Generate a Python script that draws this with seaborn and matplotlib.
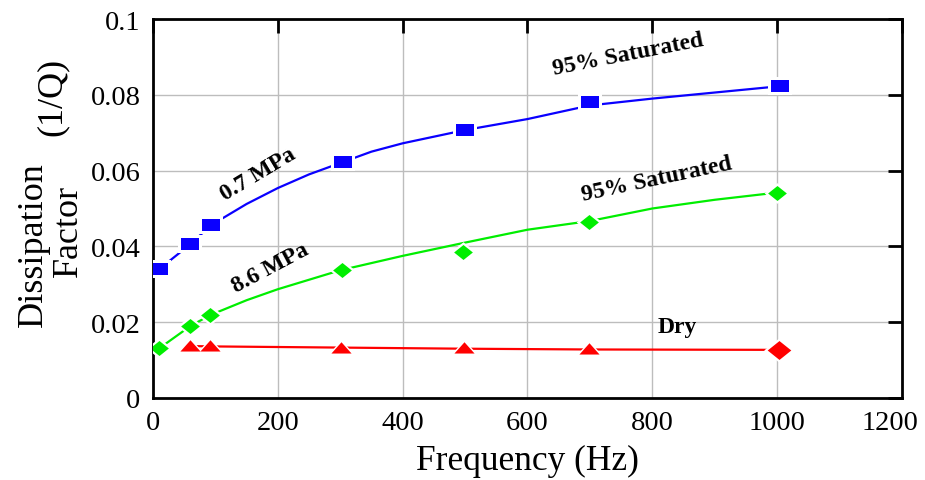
import numpy as np
import pandas as pd
import matplotlib
matplotlib.use("Agg")
import matplotlib.pyplot as plt
from matplotlib.path import Path
from matplotlib.transforms import ScaledTranslation
import seaborn as sns

# Measured dissipation factor (1/Q) versus frequency
freq_sat07 = [10, 60, 93, 305, 500, 700, 1005]
q_sat07 = [0.034, 0.0406, 0.0456, 0.0624, 0.0706, 0.0780, 0.0822]

freq_sat86 = [10, 60, 92, 303, 497, 698, 1000]
q_sat86 = [0.0131, 0.0190, 0.0219, 0.0339, 0.0386, 0.0465, 0.0542]

freq_dry = [60, 92, 302, 498, 698]
q_dry = [0.0137, 0.0137, 0.0132, 0.0132, 0.0128]
freq_dry_end = [1003]
q_dry_end = [0.0127]

# Fitted trend curves
fit_freq_07 = [10, 60, 93, 150, 200, 250, 300, 350, 400, 500, 600, 700, 800, 900, 1000]
fit_q_07 = [0.034, 0.0406, 0.0456, 0.0512, 0.0554, 0.0590, 0.0620, 0.0650, 0.0672,
            0.0707, 0.0736, 0.0772, 0.0790, 0.0806, 0.0822]

fit_freq_86 = [10, 60, 92, 150, 200, 300, 400, 500, 600, 700, 800, 900, 1000]
fit_q_86 = [0.0131, 0.0190, 0.0219, 0.0258, 0.0287, 0.0337, 0.0375, 0.0410, 0.0444,
            0.0467, 0.0500, 0.0523, 0.0542]

fit_freq_dry = [60, 100, 300, 500, 700, 1000]
fit_q_dry = [0.0137, 0.0136, 0.0133, 0.0130, 0.0128, 0.0127]

x_ticks = [0, 200, 400, 600, 800, 1000, 1200]
y_ticks = [0, 0.02, 0.04, 0.06, 0.08, 0.1]
y_tick_labels = ["0", "0.02", "0.04", "0.06", "0.08", "0.1"]

sns.set_theme(style="white")
plt.rcParams["font.family"] = ["Liberation Serif", "DejaVu Serif"]
plt.rcParams["text.color"] = "black"
plt.rcParams["axes.labelcolor"] = "black"

fig = plt.figure(figsize=(9.25, 4.81), dpi=100)
ax = fig.add_axes([0.1654, 0.1705, 0.8097, 0.7879])

BLUE = "#0a00ff"
GREEN = "#00ee00"
RED = "#ff0000"

# Marker shapes (slightly flattened)
rect = Path([(-1, -0.7), (1, -0.7), (1, 0.7), (-1, 0.7), (-1, -0.7)],
            [Path.MOVETO, Path.LINETO, Path.LINETO, Path.LINETO, Path.CLOSEPOLY])
diamond = Path([(-1, 0), (0, 0.8), (1, 0), (0, -0.8), (-1, 0)],
               [Path.MOVETO, Path.LINETO, Path.LINETO, Path.LINETO, Path.CLOSEPOLY])
tri = Path([(-1, -0.5), (1, -0.5), (0, 0.62), (-1, -0.5)],
           [Path.MOVETO, Path.LINETO, Path.LINETO, Path.CLOSEPOLY])

# Curves
for fx, fy, c in [(fit_freq_07, fit_q_07, BLUE), (fit_freq_86, fit_q_86, GREEN),
                  (fit_freq_dry, fit_q_dry, RED)]:
    sns.lineplot(x=fx, y=fy, color=c, lw=1.6, ax=ax, zorder=3, sort=True)


def points(fx, fy, marker, size, color):
    # white halo under each point, then the filled marker on top
    sns.scatterplot(x=fx, y=fy, marker=marker, s=(size + 5) ** 2, color="white",
                    linewidth=0, ax=ax, zorder=4)
    sns.scatterplot(x=fx, y=fy, marker=marker, s=size ** 2, color=color,
                    linewidth=0, ax=ax, zorder=5)


points(freq_sat07, q_sat07, rect, 12.5, BLUE)
points(freq_sat86, q_sat86, diamond, 13.5, GREEN)
points(freq_dry, q_dry, tri, 14.5, RED)
points(freq_dry_end, q_dry_end, diamond, 17, RED)

ax.set_xlim(0, 1200)
ax.set_ylim(0, 0.1)
ax.set_xticks(x_ticks)
ax.set_xticklabels([str(t) for t in x_ticks])
ax.set_yticks(y_ticks)
ax.set_yticklabels(y_tick_labels)

ax.grid(True, color="#bdbdbd", lw=1.0, zorder=0)
ax.set_axisbelow(True)
for sp in ax.spines.values():
    sp.set_color("black")
    sp.set_linewidth(2.0)
    sp.set_visible(True)
ax.tick_params(axis="both", which="major", direction="in", length=10, width=2,
               colors="black", labelcolor="black", labelsize=20.5, top=True,
               right=True, labeltop=False, labelright=False)
ax.tick_params(axis="x", pad=9)
ax.tick_params(axis="y", pad=9)

# keep the last frequency label inside the figure
last = ax.get_xticklabels()[-1]
last.set_transform(last.get_transform() + ScaledTranslation(-0.12, 0, fig.dpi_scale_trans))

ax.set_xlabel("Frequency (Hz)", fontsize=25.5, labelpad=6)
ax.set_ylabel("")

# Y axis title in pieces
fig.text(33 / 925, 1 - 245 / 481, "Dissipation", rotation=90, fontsize=26,
         ha="center", va="center")
fig.text(52 / 925, 1 - 97 / 481, "(1/Q)", rotation=90, fontsize=26,
         ha="center", va="center")
fig.text(68 / 925, 1 - 231 / 481, "Factor", rotation=90, fontsize=26,
         ha="center", va="center")

# Curve annotations
ann = dict(fontsize=17, fontweight="bold", ha="center", va="center",
           rotation_mode="anchor", color="black", transform=fig.transFigure)
fig.text(258 / 925, 1 - 175 / 481, "0.7 MPa", rotation=31, **ann)
fig.text(628 / 925, 1 - 55 / 481, "95% Saturated", rotation=11, **ann)
fig.text(270 / 925, 1 - 268 / 481, "8.6 MPa", rotation=28, **ann)
fig.text(657 / 925, 1 - 180 / 481, "95% Saturated", rotation=12, **ann)
fig.text(677 / 925, 1 - 328 / 481, "Dry", rotation=0, **ann)

fig.savefig("out.png", dpi=100)
